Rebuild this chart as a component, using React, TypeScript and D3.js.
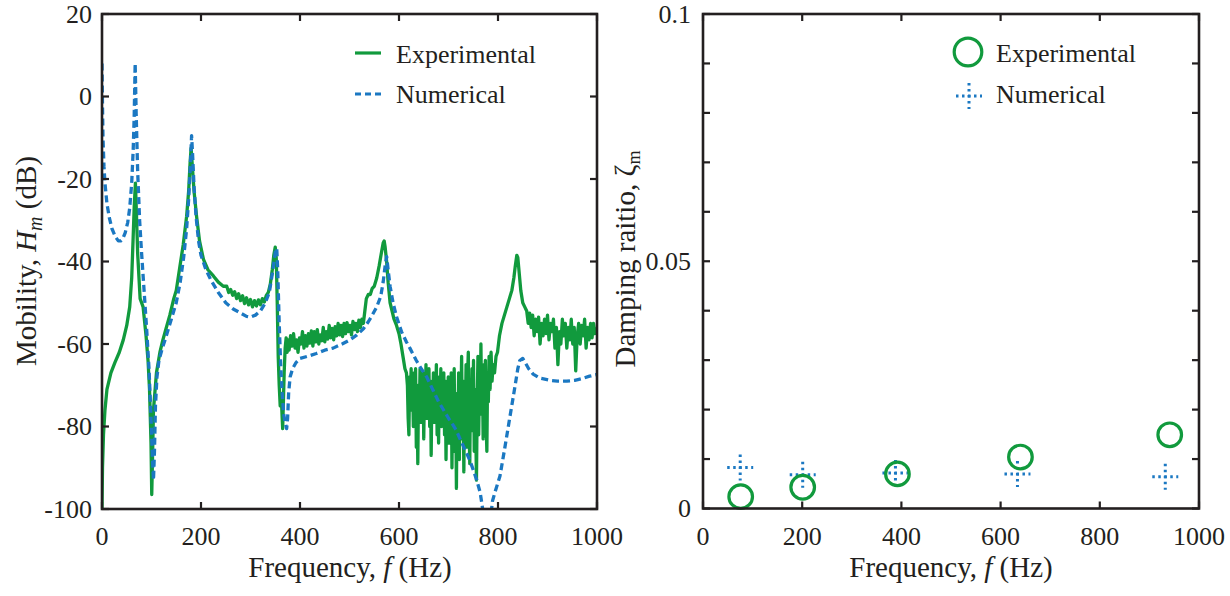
import React from "react";
import * as d3 from "d3";

// left panel: measured mobility, [frequency Hz, dB]
const expLow: [number, number][] = [
  [0, -100], [1, -90], [3, -82], [6, -76], [10, -71], [18, -67], [26, -64.5], [35, -62], [43, -59], [50, -55.5],
  [56, -51], [60, -44], [63, -34], [65, -27], [67.5, -21], [69.5, -28], [72, -38], [77, -49], [83, -51], [89, -58],
  [93, -64], [96, -71], [99, -84], [100.5, -96.5], [102, -88], [104, -76], [110, -67], [117, -62], [123, -59], [130, -56],
  [137, -53], [145, -49], [150, -47], [157, -41.5], [164, -36], [171, -29], [175, -23], [178, -16], [180, -12.5], [182, -16],
  [186, -23], [191, -29], [197, -35], [205, -39.5], [214, -42], [225, -43.5], [235, -45], [245, -46], [252, -46],
  [256, -47.5], [260, -46.8], [264, -48.2], [268, -47.3], [272, -49], [276, -47.8], [280, -49.5], [284, -48.3], [288, -50.2],
  [292, -48.8], [296, -50.5], [300, -49.2], [304, -51], [308, -49.5], [312, -50.8], [316, -49.3], [320, -50.5], [324, -49],
  [328, -49.8], [332, -48.2], [336, -47.5], [340, -45.5], [344, -42], [347, -38.5], [350, -36.5], [352, -39], [354, -50],
  [356, -63], [358, -70], [360, -75], [362, -72], [364, -78], [365, -80.5], [366, -76], [368, -67], [370, -61],
];
const expMid: [number, number][] = [
  [372, -58.5], [374, -62], [376, -59], [378, -61.5], [381, -58], [384, -60.5], [387, -57.5], [390, -61], [393, -59],
  [396, -62], [399, -58.5], [402, -60], [405, -57], [408, -61], [411, -58], [414, -60.5], [417, -57.5], [420, -59.8],
  [423, -56.8], [426, -60.5], [429, -57], [432, -59.5], [435, -56.5], [438, -60], [441, -57.8], [444, -59.2], [447, -56],
  [450, -59.5], [453, -57], [456, -58.8], [459, -55.5], [462, -58.5], [465, -56.2], [468, -59], [471, -55.8], [474, -58],
  [477, -55], [480, -57.8], [483, -55.5], [486, -58.2], [489, -55], [492, -57.5], [495, -54.8], [498, -57], [501, -55.5],
  [504, -57.8], [507, -54.5], [510, -56.5], [513, -55], [516, -57], [519, -54.2], [522, -56], [525, -54], [528, -55],
  [531, -52], [534, -49], [538, -48], [542, -48], [546, -46.5], [550, -46], [555, -44], [560, -41], [565, -37.5],
  [568, -35.5], [570, -35], [572, -36.5], [575, -40], [578, -45], [582, -50], [586, -52], [590, -54], [595, -55.5],
  [600, -57.5], [604, -60], [608, -63], [612, -66], [615, -67],
];
const expNoisy: [number, number][] = [
  [617, -70], [618.5, -78], [620, -82], [621.5, -68], [623, -73], [624.5, -66], [626, -76], [627.5, -69], [629, -80],
  [630.5, -67], [632, -74], [633.5, -66], [635, -85], [636.5, -72], [638, -89], [639.5, -70], [641, -77], [642.5, -66],
  [644, -79], [645.5, -68], [647, -73], [648.5, -67], [650, -83], [651.5, -70], [653, -76], [654.5, -65], [656, -78],
  [657.5, -68], [659, -74], [660.5, -66], [662, -80], [663.5, -69], [665, -87], [666.5, -71], [668, -76], [669.5, -67],
  [671, -79], [672.5, -68], [674, -73], [675.5, -65], [677, -82], [678.5, -70], [680, -84], [681.5, -68], [683, -77],
  [684.5, -66], [686, -80], [687.5, -70], [689, -75], [690.5, -67], [692, -82], [693.5, -69], [695, -88], [696.5, -72],
  [698, -78], [699.5, -68], [701, -84], [702.5, -70], [704, -79], [705.5, -67], [707, -90], [708.5, -71], [710, -77],
  [711.5, -66], [713, -86], [714.5, -73], [716, -95], [717.5, -72], [719, -81], [720.5, -67], [722, -88], [723.5, -70],
  [725, -76], [726.5, -63], [728, -83], [729.5, -69], [731, -91], [732.5, -72], [734, -78], [735.5, -65], [737, -85],
  [738.5, -68], [740, -62], [741.5, -79], [743, -89], [744.5, -69], [746, -81], [747.5, -66], [749, -76], [750.5, -64],
  [752, -86], [753.5, -71], [755, -80], [756.5, -93], [758, -74], [759.5, -63], [761, -82], [762.5, -69], [764, -77],
  [765.5, -60], [767, -76], [768.5, -67], [770, -83], [771.5, -65], [773, -74], [774.5, -64], [776, -79], [777.5, -86],
  [779, -67], [780.5, -74], [782, -63], [784, -71], [786, -62], [788, -69], [790, -65], [793, -67], [796, -63],
];
const expHigh: [number, number][] = [
  [799, -62], [803, -58], [808, -55], [813, -53], [818, -51], [823, -49], [828, -47], [832, -44], [835, -41],
  [838, -38.5], [840, -39], [843, -43], [846, -47], [850, -50], [854, -51], [858, -52],
  [861, -55], [864, -52.5], [867, -56], [870, -53], [873, -58], [876, -54], [879, -57], [882, -53.5], [885, -60],
  [888, -55], [891, -58], [894, -54], [897, -57.5], [900, -53], [903, -59], [906, -55], [909, -57], [912, -54],
  [915, -61], [918, -56], [921, -65], [924, -57], [927, -60], [930, -54], [933, -58], [936, -55], [939, -61],
  [942, -56], [945, -59], [948, -54], [951, -60], [954, -56], [957, -66.5], [960, -58], [963, -55], [966, -60],
  [969, -55.5], [972, -58], [975, -54], [978, -61], [981, -56], [984, -59], [987, -55], [990, -58.5], [993, -55],
  [996, -57.5], [999, -56],
];

// left panel: numerical mobility, [frequency Hz, dB]
const numCurve: [number, number][] = [
  [0, 8], [1, -2], [2, -10], [4, -17], [6, -21], [10, -26], [15, -29.5], [20, -32], [27, -34], [33, -35], [38, -35],
  [42, -34.5], [47, -33], [52, -30.5], [56, -27], [60, -21], [63, -13], [65, -5], [67, 8], [69, -4], [72, -18], [76, -30],
  [80, -38], [85, -47], [90, -56], [95, -66], [99, -78], [102, -88], [104, -93], [106, -86], [108, -75], [111, -68],
  [115, -64], [122, -61], [130, -58], [140, -54], [150, -50], [158, -45], [165, -39], [171, -32], [175, -25], [178, -18],
  [181, -9.5], [183, -14], [186, -22], [190, -29], [195, -35], [200, -38.5], [210, -42], [220, -44.5], [235, -47.5],
  [250, -50], [265, -51.5], [280, -52.5], [292, -53.3], [300, -53.5], [310, -53], [320, -52], [330, -50], [338, -47.5],
  [344, -43], [348, -39.5], [351, -37], [353, -36.8], [355, -42], [358, -55], [361, -65], [364, -72], [367, -77],
  [370, -79], [373, -80.5], [375, -78], [377, -72], [380, -68], [385, -66], [392, -64.5], [400, -63.5], [415, -63],
  [433, -62.3], [450, -61.5], [467, -61], [485, -60], [501, -59], [515, -57.8], [528, -56.3], [538, -54.6], [546, -53],
  [555, -51], [563, -48.5], [568, -45], [572, -41], [575, -38.8], [578, -42], [582, -46], [588, -50], [595, -53.4],
  [605, -57], [615, -59.5], [622, -61], [635, -64], [645, -66], [656, -68], [670, -71.5], [680, -74], [690, -76],
  [700, -78], [710, -79.8], [716, -81], [725, -83.5], [735, -86], [743, -88.2], [750, -90.5], [757, -93], [764, -96],
  [769, -100], [773, -104], [777, -108], [781, -106], [785, -102], [789, -98], [795, -95.5], [804, -92], [814, -85],
  [824, -77.7], [834, -70.5], [840, -66], [844, -64], [850, -63.5], [855, -64.5], [862, -66], [871, -67.3], [885, -68.3],
  [905, -68.8], [920, -69], [939, -69], [955, -68.8], [972, -68.3], [985, -67.8], [1000, -67.4],
];

// right panel: modal damping ratios
const modeFreqExp = [76, 201, 392, 640, 941];
const zetaExp = [0.0024, 0.0043, 0.007, 0.0104, 0.0149];
const modeFreqNum = [75, 201, 388, 634, 932];
const zetaNum = [0.0083, 0.0068, 0.0072, 0.007, 0.0064];

const freqTicks = [0, 200, 400, 600, 800, 1000];
const magTicks = [-100, -80, -60, -40, -20, 0, 20];
const zetaTicks = [0, 0.01, 0.02, 0.03, 0.04, 0.05, 0.06, 0.07, 0.08, 0.09, 0.1];
const zetaLabels = [0, 0.05, 0.1];

const GREEN = "#119A3D";
const BLUE = "#1B78C2";
const INK = "#231f20";
const FONT = "'Liberation Serif', 'Times New Roman', serif";
const TICK = 7;

const xL = d3.scaleLinear().domain([0, 1000]).range([102, 597]);
const yL = d3.scaleLinear().domain([-100, 20]).range([509, 14]);
const xR = d3.scaleLinear().domain([0, 1000]).range([703, 1199]);
const yR = d3.scaleLinear().domain([0, 0.1]).range([508.5, 14]);

const Frame = ({ x, y, xt, yt }: any) => {
  const [x0, x1] = x.range();
  const [y0, y1] = y.range();
  return (
    <g stroke={INK} strokeWidth={2.2}>
      {xt.map((t: number) => (
        <g key={"x" + t}>
          <line x1={x(t)} x2={x(t)} y1={y0} y2={y0 - TICK} />
          <line x1={x(t)} x2={x(t)} y1={y1} y2={y1 + TICK} />
        </g>
      ))}
      {yt.map((t: number) => (
        <g key={"y" + t}>
          <line x1={x0} x2={x0 + TICK} y1={y(t)} y2={y(t)} />
          <line x1={x1} x2={x1 - TICK} y1={y(t)} y2={y(t)} />
        </g>
      ))}
      <rect x={x0} y={y1} width={x1 - x0} height={y0 - y1} fill="none" strokeWidth={2.6} />
    </g>
  );
};

const Plus = ({ cx, cy, r }: any) => (
  <g stroke={BLUE} strokeWidth={3} strokeDasharray="2.5,3.5">
    <line x1={cx - r} x2={cx + r} y1={cy} y2={cy} />
    <line x1={cx} x2={cx} y1={cy - r} y2={cy + r} />
  </g>
);

export default function App() {
  const line = d3
    .line<[number, number]>()
    .x((d) => xL(d[0]))
    .y((d) => yL(d[1]));

  const expPath = line([...expLow, ...expMid, ...expNoisy, ...expHigh]) || "";
  const numPath = line(numCurve) || "";

  return (
    <svg
      width={1230}
      height={596}
      style={{ position: "absolute", left: 0, top: 0, background: "#fff" }}
      fontFamily={FONT}
      fill={INK}
    >
      <defs>
        <clipPath id="clipL">
          <rect x={102} y={14} width={495} height={495} />
        </clipPath>
      </defs>

      {/* left panel */}
      <g clipPath="url(#clipL)" fill="none" strokeWidth={3.3} strokeLinejoin="round">
        <path d={expPath} stroke={GREEN} />
        <path d={numPath} stroke={BLUE} strokeDasharray="7,4" />
      </g>
      <Frame x={xL} y={yL} xt={freqTicks} yt={magTicks} />
      <g fontSize={26}>
        {magTicks.map((t) => (
          <text key={t} x={92} y={yL(t)} dy="0.34em" textAnchor="end">
            {t}
          </text>
        ))}
        {freqTicks.map((t) => (
          <text key={t} x={xL(t)} y={545} textAnchor="middle">
            {t}
          </text>
        ))}
      </g>
      <text x={350} y={577} fontSize={29} textAnchor="middle">
        Frequency, <tspan fontStyle="italic">f</tspan> (Hz)
      </text>
      <text transform="translate(36,261) rotate(-90)" fontSize={29} textAnchor="middle">
        Mobility, <tspan fontStyle="italic">H</tspan>
        <tspan fontStyle="italic" fontSize={20} dy={6}>m</tspan>
        <tspan dy={-6}> (dB)</tspan>
      </text>
      <g fontSize={26}>
        <line x1={355} x2={381} y1={53} y2={53} stroke={GREEN} strokeWidth={3.2} />
        <text x={396} y={63}>Experimental</text>
        <line x1={355} x2={381} y1={94} y2={94} stroke={BLUE} strokeWidth={3.2} strokeDasharray="6,4" />
        <text x={396} y={103}>Numerical</text>
      </g>

      {/* right panel */}
      {modeFreqNum.map((f, i) => (
        <Plus key={"n" + i} cx={xR(f)} cy={yR(zetaNum[i])} r={13} />
      ))}
      {modeFreqExp.map((f, i) => (
        <circle key={"e" + i} cx={xR(f)} cy={yR(zetaExp[i])} r={11.8} fill="none" stroke={GREEN} strokeWidth={3.2} />
      ))}
      <Frame x={xR} y={yR} xt={freqTicks} yt={zetaTicks} />
      <g fontSize={26}>
        {zetaLabels.map((t) => (
          <text key={t} x={691} y={yR(t)} dy="0.34em" textAnchor="end">
            {t}
          </text>
        ))}
        {freqTicks.map((t) => (
          <text key={t} x={xR(t)} y={545} textAnchor="middle">
            {t}
          </text>
        ))}
      </g>
      <text x={951} y={577} fontSize={29} textAnchor="middle">
        Frequency, <tspan fontStyle="italic">f</tspan> (Hz)
      </text>
      <text transform="translate(635,259) rotate(-90)" fontSize={29} textAnchor="middle">
        Damping raitio, ζ<tspan fontSize={18} dy={5}>m</tspan>
      </text>
      <g fontSize={26}>
        <circle cx={968} cy={52} r={13.8} fill="none" stroke={GREEN} strokeWidth={3.2} />
        <text x={996} y={62}>Experimental</text>
        <Plus cx={969} cy={96} r={13} />
        <text x={996} y={103}>Numerical</text>
      </g>
    </svg>
  );
}
